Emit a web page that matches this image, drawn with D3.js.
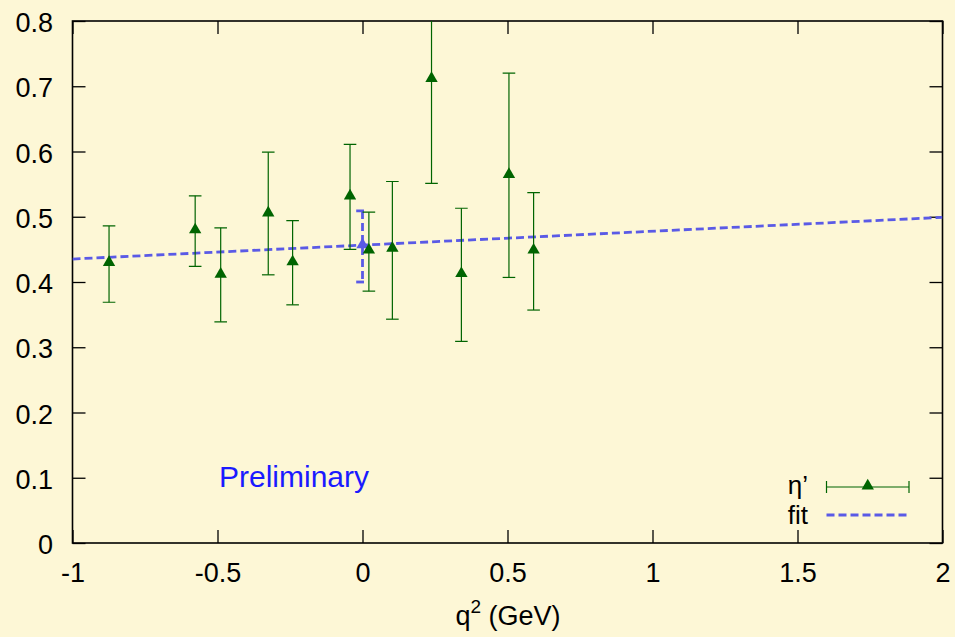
<!DOCTYPE html>
<html><head><meta charset="utf-8">
<script src="https://cdn.jsdelivr.net/npm/d3@7"></script>
<style>body{margin:0;background:#fdf7d6;}svg{display:block;}</style>
</head><body>
<script>
// Data: eta' points (q^2, value, lower error bound, upper error bound)
const qsq   = [-0.874, -0.577, -0.489, -0.325, -0.241, -0.043, 0.022, 0.103, 0.238, 0.341, 0.505, 0.590];
const vals  = [0.430, 0.480, 0.412, 0.506, 0.431, 0.532, 0.449, 0.452, 0.712, 0.413, 0.565, 0.449];
const lows  = [0.369, 0.424, 0.339, 0.411, 0.365, 0.450, 0.386, 0.343, 0.551, 0.309, 0.407, 0.357];
const highs = [0.486, 0.532, 0.483, 0.599, 0.494, 0.611, 0.507, 0.554, 0.870, 0.513, 0.720, 0.537];
// Fit line endpoints and fit value at q^2 = 0
const fitX = [-1, 2];
const fitY = [0.4352, 0.4991];
const fitPoint = {x: 0, y: 0.457, lo: 0.400, hi: 0.509};
const xTicks = [-1, -0.5, 0, 0.5, 1, 1.5, 2];
const yTicks = [0, 0.1, 0.2, 0.3, 0.4, 0.5, 0.6, 0.7, 0.8];

const W = 955, H = 637;
const L = 72.5, R = 942.5, T = 21, B = 543;
const green = "#006400", blue = "#5a5ae6";
const svg = d3.select("body").append("svg").attr("width", W).attr("height", H)
  .style("font-family", "'Liberation Sans', Arial, sans-serif");
svg.append("rect").attr("width", W).attr("height", H).attr("fill", "#fdf7d6");

const x = d3.scaleLinear().domain([-1, 2]).range([L, R]);
const y = d3.scaleLinear().domain([0, 0.8]).range([B, T]);

svg.append("defs").append("clipPath").attr("id", "clip")
  .append("rect").attr("x", L).attr("y", T).attr("width", R - L).attr("height", B - T);

// Axes (ticks inward on all four sides)
const fmt = d => String(d);
const ax = svg.append("g").attr("transform", `translate(0,${B})`)
  .call(d3.axisBottom(x).tickValues(xTicks).tickSize(-13).tickPadding(20).tickFormat(fmt));
const ay = svg.append("g").attr("transform", `translate(${L},0)`)
  .call(d3.axisLeft(y).tickValues(yTicks).tickSize(-13).tickPadding(19.5).tickFormat(fmt));
const axT = svg.append("g").attr("transform", `translate(0,${T})`)
  .call(d3.axisTop(x).tickValues(xTicks).tickSize(-13).tickFormat(""));
const ayR = svg.append("g").attr("transform", `translate(${R},0)`)
  .call(d3.axisRight(y).tickValues(yTicks).tickSize(-13).tickFormat(""));
[ax, ay, axT, ayR].forEach(g => {
  g.attr("font-family", null).attr("font-size", null);
  g.select(".domain").remove();
  g.selectAll(".tick line").attr("stroke", "#000").attr("stroke-width", 1.3);
  g.selectAll(".tick text").attr("fill", "#000").style("font-size", "27px");
});
ay.selectAll(".tick text").attr("dy", "0.39em");
svg.append("rect").attr("x", L).attr("y", T).attr("width", R - L).attr("height", B - T)
  .attr("fill", "none").attr("stroke", "#000").attr("stroke-width", 1.6);

const plot = svg.append("g").attr("clip-path", "url(#clip)");

// Fit line
plot.append("line")
  .attr("x1", x(fitX[0])).attr("y1", y(fitY[0])).attr("x2", x(fitX[1])).attr("y2", y(fitY[1]))
  .attr("stroke", blue).attr("stroke-width", 2.8).attr("stroke-dasharray", "8,4");

const cap = 6.3;
// Fit point error bar at q^2=0
const fg = plot.append("g").attr("stroke", blue).attr("stroke-width", 2.8).attr("fill", "none");
fg.append("line").attr("x1", x(fitPoint.x)).attr("x2", x(fitPoint.x))
  .attr("y1", y(fitPoint.hi)).attr("y2", y(fitPoint.lo)).attr("stroke-dasharray", "8,4");
fg.append("line").attr("x1", x(fitPoint.x) - cap).attr("x2", x(fitPoint.x) + 1.5)
  .attr("y1", y(fitPoint.hi)).attr("y2", y(fitPoint.hi));
fg.append("line").attr("x1", x(fitPoint.x) - cap).attr("x2", x(fitPoint.x) + 1.5)
  .attr("y1", y(fitPoint.lo)).attr("y2", y(fitPoint.lo));

const tri = d3.symbol().type(d3.symbolTriangle).size(66);

// Data error bars
const pts = qsq.map((q, i) => ({q, v: vals[i], lo: lows[i], hi: highs[i]}));
const eg = plot.append("g").attr("stroke", green).attr("stroke-width", 1.2);
pts.forEach(p => {
  eg.append("line").attr("x1", x(p.q)).attr("x2", x(p.q)).attr("y1", y(p.lo)).attr("y2", y(p.hi));
  eg.append("line").attr("x1", x(p.q) - cap).attr("x2", x(p.q) + cap).attr("y1", y(p.lo)).attr("y2", y(p.lo));
  eg.append("line").attr("x1", x(p.q) - cap).attr("x2", x(p.q) + cap).attr("y1", y(p.hi)).attr("y2", y(p.hi));
});
plot.append("path").attr("d", tri).attr("fill", blue)
  .attr("transform", `translate(${x(fitPoint.x)},${y(fitPoint.y)})`);
pts.forEach(p => {
  plot.append("path").attr("d", tri).attr("fill", green)
    .attr("transform", `translate(${x(p.q)},${y(p.v)})`);
});

// Axis title
const xt = svg.append("text").attr("x", 508).attr("y", 625).attr("text-anchor", "middle")
  .style("font-size", "27px").attr("fill", "#000");
xt.append("tspan").text("q");
xt.append("tspan").attr("dy", -12).style("font-size", "19px").text("2");
xt.append("tspan").attr("dy", 12).text(" (GeV)");

// Preliminary
svg.append("text").attr("x", 219).attr("y", 487).style("font-size", "30px")
  .attr("fill", "#1a1aff").text("Preliminary");

// Legend
const lg = svg.append("g");
lg.append("text").attr("x", 808).attr("y", 494).attr("text-anchor", "end")
  .style("font-size", "26px").text("η’");
lg.append("text").attr("x", 808).attr("y", 524).attr("text-anchor", "end")
  .style("font-size", "26px").text("fit");
const ly = 487, lx1 = 826.5, lx2 = 909;
lg.append("line").attr("x1", lx1).attr("x2", lx2).attr("y1", ly).attr("y2", ly).attr("stroke", green).attr("stroke-width", 1.2);
lg.append("line").attr("x1", lx1).attr("x2", lx1).attr("y1", ly - 6).attr("y2", ly + 6).attr("stroke", green).attr("stroke-width", 1.2);
lg.append("line").attr("x1", lx2).attr("x2", lx2).attr("y1", ly - 6).attr("y2", ly + 6).attr("stroke", green).attr("stroke-width", 1.2);
lg.append("path").attr("d", tri).attr("fill", green).attr("transform", `translate(${(lx1 + lx2) / 2},${ly - 1})`);
lg.append("line").attr("x1", lx1).attr("x2", lx2).attr("y1", 515).attr("y2", 515)
  .attr("stroke", blue).attr("stroke-width", 2.8).attr("stroke-dasharray", "8,4");
</script>
</body></html>
